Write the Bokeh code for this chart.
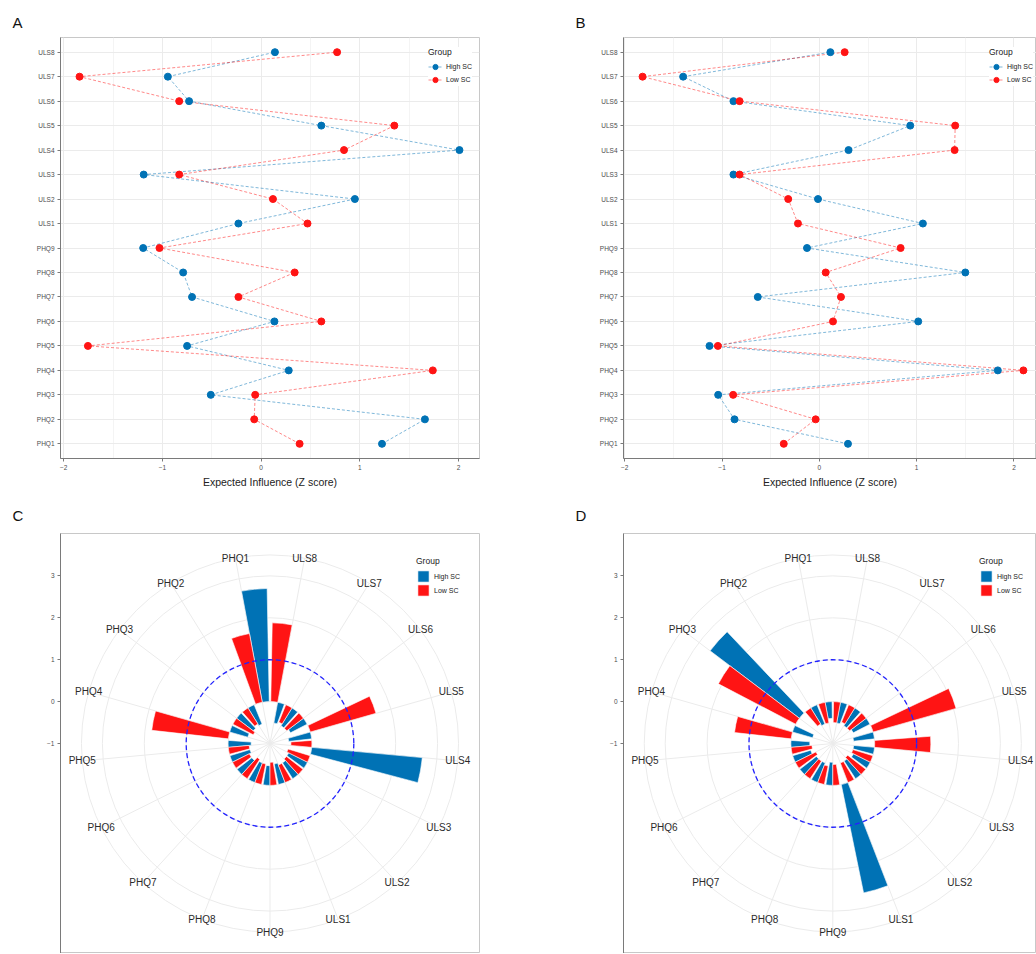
import math
from bokeh.plotting import figure
from bokeh.models import Range1d, FactorRange, FixedTicker, Legend, LegendItem, ColumnDataSource
from bokeh.layouts import column, row
from bokeh.embed import file_html
from bokeh.resources import INLINE
from bokeh.core.properties import value

# ---------------- data ----------------
categories = ["PHQ1", "PHQ2", "PHQ3", "PHQ4", "PHQ5", "PHQ6", "PHQ7", "PHQ8", "PHQ9",
              "ULS1", "ULS2", "ULS3", "ULS4", "ULS5", "ULS6", "ULS7", "ULS8"]
groups = ["High SC", "Low SC"]

# Panel A: expected influence (z)
a_high = [1.225, 1.66, -0.51, 0.28, -0.75, 0.135, -0.70, -0.79, -1.195,
          -0.23, 0.95, -1.19, 2.01, 0.61, -0.73, -0.945, 0.14]
a_low = [0.39, -0.07, -0.06, 1.74, -1.755, 0.61, -0.23, 0.34, -1.03,
         0.47, 0.12, -0.83, 0.84, 1.35, -0.83, -1.84, 0.77]

# Panel B: expected influence (z)
b_high = [0.294, -0.872, -1.04, 1.834, -1.129, 1.016, -0.633, 1.50, -0.127,
          1.064, -0.014, -0.883, 0.30, 0.934, -0.883, -1.40, 0.113]
b_low = [-0.366, -0.038, -0.886, 2.097, -1.043, 0.14, 0.222, 0.065, 0.835,
         -0.22, -0.32, -0.82, 1.39, 1.396, -0.82, -1.817, 0.26]

# Panel C: polar bars
c_high = [2.70, -0.50, -0.50, -0.45, -0.55, -0.50, -0.45, -0.50, -0.47,
          -0.50, -0.45, -0.50, 2.65, -0.55, -0.45, -0.50, -0.50]
c_low = [1.67, -0.45, -0.55, 1.84, -0.50, -0.45, -0.55, -0.50, -0.55,
         -0.45, -0.50, -0.55, -0.50, 1.63, -0.50, -0.45, 1.88]

# Panel D: polar bars
d_high = [-0.40, -0.50, 2.67, -0.50, -0.45, -0.45, -0.50, -0.50, -0.55,
          2.64, -0.50, -0.45, -0.50, -0.50, -0.45, -0.50, -0.50]
d_low = [-0.50, -0.45, 2.08, 1.36, -0.50, -0.55, -0.50, -0.45, -0.50,
         -0.50, -0.55, -0.50, 1.34, 2.06, -0.50, -0.45, -0.50]

x_ticks = [-2, -1, 0, 1, 2]
x_minor = [-1.5, -0.5, 0.5, 1.5]
r_ticks = [-1, 0, 1, 2, 3]
r_reference = 1  # dashed circle

BLUE = "#0072B5"
RED = "#FF1414"
FONT = "Liberation Sans"
GRID = "#EBEBEB"
AXIS = "#7A7A7A"
BORDER = "#C8C8C8"
TICKTXT = "#4D4D4D"


def style_title(p, letter, standoff):
    p.title.text = letter
    p.title.text_font = FONT
    p.title.text_font_size = "15px"
    p.title.text_font_style = "normal"
    p.title.text_color = "#111111"
    p.title.align = "left"
    p.title.offset = -48
    p.title.standoff = standoff


def make_legend(items, vx, vy, glyph_h):
    lg = Legend(items=items, location=(vx, vy), title="Group")
    lg.title_text_font = FONT
    lg.title_text_font_size = "8.5px"
    lg.title_text_font_style = "normal"
    lg.title_text_color = "#222222"
    lg.title_standoff = 3
    lg.label_text_font = FONT
    lg.label_text_font_size = "7px"
    lg.label_text_color = "#222222"
    lg.glyph_width = 14
    lg.glyph_height = glyph_h
    lg.label_height = glyph_h
    lg.label_standoff = 4
    lg.spacing = 0
    lg.padding = 5
    lg.margin = 0
    lg.border_line_color = None
    lg.background_fill_color = "white"
    lg.background_fill_alpha = 1
    return lg


def line_panel(letter, high, low, x_start, x_end, frame_w, min_left, min_right, vx):
    p = figure(frame_width=frame_w, frame_height=421,
               x_range=Range1d(x_start, x_end),
               y_range=FactorRange(factors=categories, range_padding=0.2 / 17),
               output_backend="svg", toolbar_location=None,
               min_border_left=min_left, min_border_right=min_right,
               min_border_top=37, min_border_bottom=34)
    style_title(p, letter, 13)
    p.outline_line_color = BORDER
    p.outline_line_width = 1
    p.background_fill_color = "white"
    p.border_fill_color = "white"

    p.xaxis.ticker = FixedTicker(ticks=x_ticks, minor_ticks=x_minor)
    p.xgrid.grid_line_color = GRID
    p.xgrid.minor_grid_line_color = "#F4F4F4"
    p.ygrid.grid_line_color = GRID
    for ax in (p.xaxis, p.yaxis):
        ax.axis_line_color = AXIS
        ax.major_tick_line_color = AXIS
        ax.major_tick_out = 3
        ax.major_tick_in = 0
        ax.minor_tick_line_color = None
        ax.major_label_text_font = FONT
        ax.major_label_text_font_size = "6.5px"
        ax.major_label_text_color = TICKTXT
    p.xaxis.major_label_standoff = 2
    p.yaxis.major_label_standoff = 3
    p.xaxis.axis_label = "Expected Influence (Z score)"
    p.xaxis.axis_label_text_font = FONT
    p.xaxis.axis_label_text_font_size = "10.5px"
    p.xaxis.axis_label_text_font_style = "normal"
    p.xaxis.axis_label_text_color = "#222222"
    p.xaxis.axis_label_standoff = 3

    src_h = ColumnDataSource(dict(v=high, cat=categories))
    src_l = ColumnDataSource(dict(v=low, cat=categories))
    lh = p.line("v", "cat", source=src_h, line_color=BLUE, line_alpha=0.5,
                line_width=1, line_dash="3 2")
    ll = p.line("v", "cat", source=src_l, line_color=RED, line_alpha=0.5,
                line_width=1, line_dash="3 2")
    sh = p.scatter("v", "cat", source=src_h, size=7, fill_color=BLUE, line_color=BLUE)
    sl = p.scatter("v", "cat", source=src_l, size=7, fill_color=RED, line_color=RED)

    items = [LegendItem(label=groups[0], renderers=[lh, sh]),
             LegendItem(label=groups[1], renderers=[ll, sl])]
    p.add_layout(make_legend(items, vx, 372, 13))
    return p


PX = 41.9  # pixels per radial unit
R_MIN = -1.0  # radial value at the centre
DELTA = 2 * math.pi / len(categories)


def polar_panel(letter, high, low, x_start, x_end, frame_w, min_left, min_right, vx):
    p = figure(frame_width=frame_w, frame_height=420,
               x_range=Range1d(x_start, x_end),
               y_range=Range1d(R_MIN - 210 / PX, R_MIN + 210 / PX),
               output_backend="svg", toolbar_location=None,
               min_border_left=min_left, min_border_right=min_right,
               min_border_top=41, min_border_bottom=0)
    style_title(p, letter, 20)
    p.outline_line_color = BORDER
    p.outline_line_width = 1
    p.grid.visible = False
    p.xaxis.visible = False
    p.yaxis.ticker = FixedTicker(ticks=r_ticks)
    p.yaxis.axis_line_color = AXIS
    p.yaxis.major_tick_line_color = AXIS
    p.yaxis.major_tick_out = 3
    p.yaxis.major_tick_in = 0
    p.yaxis.minor_tick_line_color = None
    p.yaxis.major_label_text_font = FONT
    p.yaxis.major_label_text_font_size = "6.5px"
    p.yaxis.major_label_text_color = TICKTXT
    p.yaxis.major_label_standoff = 3

    n = len(categories)
    theta_c = [math.pi / 2 + (i + 0.5) * DELTA for i in range(n)]
    outer = 4.5

    # radial grid circles (at r breaks) and outer circle
    radii = [t - R_MIN for t in r_ticks if t > R_MIN] + [outer]
    p.circle(x=[0] * len(radii), y=[R_MIN] * len(radii), radius=radii,
             fill_color=None, line_color=GRID, line_width=1)
    # spokes
    p.segment(x0=[0] * n, y0=[R_MIN] * n,
              x1=[outer * math.cos(t) for t in theta_c],
              y1=[R_MIN + outer * math.sin(t) for t in theta_c],
              line_color=GRID, line_width=1)

    def wedges(vals, offset, color):
        src = ColumnDataSource(dict(
            cat=categories,
            inner=[min(v, 0) - R_MIN for v in vals],
            outer=[max(v, 0) - R_MIN for v in vals],
            start=[t + offset for t in theta_c],
            end=[t + offset + 0.45 * DELTA for t in theta_c]))
        return p.annular_wedge(x=0, y=R_MIN, inner_radius="inner", outer_radius="outer",
                               start_angle="start", end_angle="end", source=src,
                               fill_color=color, line_color="white", line_width=0.6)

    wh = wedges(high, -0.45 * DELTA, BLUE)
    wl = wedges(low, 0.0, RED)

    # reference dashed circle
    p.circle(x=[0], y=[R_MIN], radius=[r_reference - R_MIN], fill_color=None,
             line_color="#2222FF", line_width=1.3, line_dash="5 3")

    # category labels
    lab = ColumnDataSource(dict(x=[outer * math.cos(t) for t in theta_c],
                                y=[R_MIN + outer * math.sin(t) for t in theta_c],
                                text=categories))
    p.text(x="x", y="y", text="text", source=lab, text_align="center",
           text_baseline="middle", text_font=value(FONT), text_font_size="10px",
           text_color="#2B2B2B")

    items = [LegendItem(label=groups[0], renderers=[wh]),
             LegendItem(label=groups[1], renderers=[wl])]
    p.add_layout(make_legend(items, vx, 356, 14))
    return p


B_FRAME = 1036 - 623
pA = line_panel("A", a_high, a_low, -2.033, 2.213, 419, 60, 92, 368)
pB = line_panel("B", b_high, b_low, -2.013, -2.013 + B_FRAME / 97.3, B_FRAME, 52, 0, 366)
pC = polar_panel("C", c_high, c_low, -5.0, 5.0, 419, 60, 92, 356)
d_start = -(832.3 - 623) / PX
pD = polar_panel("D", d_high, d_low, d_start, d_start + B_FRAME / PX, B_FRAME, 52, 0, 356)

layout = column(row(pA, pB), row(pC, pD))
open("out.html", "w").write(file_html(layout, INLINE))
